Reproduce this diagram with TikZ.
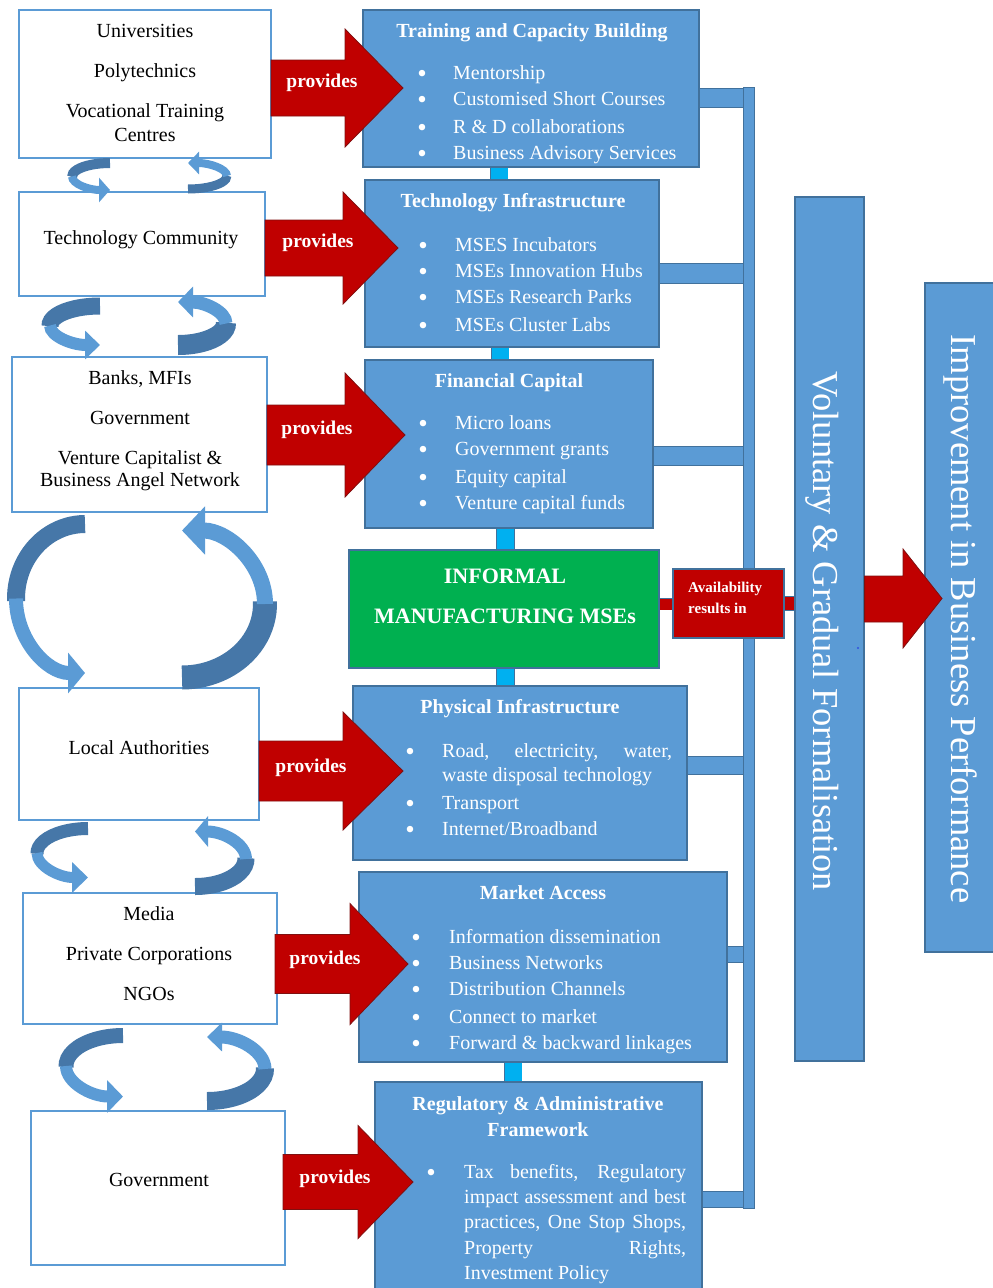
\documentclass[tikz,border=0pt]{standalone}
\usepackage{fontspec}
\setmainfont{Liberation Serif}
\usetikzlibrary{arrows.meta,fit,calc}
\definecolor{bfill}{HTML}{5B9BD5}
\definecolor{bedge}{HTML}{41719C}
\definecolor{rdk}{HTML}{4677A8}
\definecolor{redf}{HTML}{C00000}
\definecolor{rede}{HTML}{7F1010}
\definecolor{grn}{HTML}{00B050}
\definecolor{cyn}{HTML}{00B0F0}
\definecolor{dotc}{HTML}{3050E0}
\tikzset{
 lbox/.style={draw=bfill, line width=1.4pt, fill=white, inner sep=0pt},
 cbox/.style={draw=bedge, line width=1.2pt, fill=bfill, inner sep=0pt},
 gbox/.style={draw=bedge, line width=1.2pt, fill=grn, inner sep=0pt},
 ltxt/.style={font=\fontsize{20}{24}\selectfont, text=black, anchor=mid, inner sep=0pt, yshift=-5pt},
 ttl/.style={font=\fontsize{20}{24}\selectfont\bfseries, text=white, anchor=mid, inner sep=0pt, yshift=-5pt},
 itm/.style={font=\fontsize{20}{24}\selectfont, text=white, anchor=mid west, inner sep=0pt, yshift=-5pt},
 bul/.style={font=\fontsize{27}{30}\selectfont, text=white, anchor=mid, inner sep=0pt, yshift=-8pt},
 gtxt/.style={font=\fontsize{22}{26}\selectfont\bfseries, text=white, anchor=mid, inner sep=0pt, yshift=-5pt},
 avtxt/.style={font=\fontsize{15}{18}\selectfont\bfseries, text=white, anchor=mid west, inner sep=0pt, yshift=-3pt},
 provtxt/.style={font=\fontsize{19.5}{24}\selectfont\bfseries, text=white, anchor=mid, inner sep=0pt, yshift=-5pt},
 rot/.style={font=\fontsize{36.5}{40}\selectfont, text=white, anchor=base, rotate=-90, inner sep=0pt},
 redarrow/.style={fill=redf, draw=rede, line width=0.8pt, line join=miter},
 cconn/.style={draw=bedge, line width=0.8pt, double=cyn, double distance=17pt},
 bconn/.style={draw=bedge, line width=0.8pt, double=bfill, double distance=#1},
 rdark/.style={draw=rdk},
 rlight/.style={draw=bfill},
}
\newcommand\ribL[8]{%
 \draw[rdark, line width=#5pt] (#1,{#2-#4}) arc[start angle=90, end angle=182, x radius=#3pt, y radius=#4pt];
 \draw[rlight, line width=#6pt, -{Triangle[length=#7pt,width=#8pt]}] ({#1-#3},#2) arc[start angle=180, end angle=270, x radius=#3pt, y radius=#4pt];}
\newcommand\ribR[8]{%
 \draw[rdark, line width=#5pt] (#1,{#2+#4}) arc[start angle=-90, end angle=2, x radius=#3pt, y radius=#4pt];
 \draw[rlight, line width=#6pt, -{Triangle[length=#7pt,width=#8pt]}] ({#1+#3},#2) arc[start angle=0, end angle=90, x radius=#3pt, y radius=#4pt];}
\newcommand\provarrow[6]{%
 \draw[redarrow] (#1,{#4-#5}) -- (#2,{#4-#5}) -- (#2,{#4-#6}) -- (#3,#4) -- (#2,{#4+#6}) -- (#2,{#4+#5}) -- (#1,{#4+#5}) -- cycle;}
\newcommand\bitem[5]{%
 \node[bul] (#1b) at (#2,#5) {\textbullet};
 \node[itm] (#1) at (#3,#5) {#4};}
\begin{document}
\begin{tikzpicture}[x=1pt,y=-1pt]
\useasboundingbox (0,0) rectangle (993,1288);
\clip (0,0) rectangle (993,1288);

% left boxes
\node[lbox, fit={(19,10)(271,158)}] (uni) {};
\node[lbox, fit={(19,192)(265,296)}] (tc) {};
\node[lbox, fit={(12,357)(267,512)}] (bank) {};
\node[lbox, fit={(19,688)(259,820)}] (local) {};
\node[lbox, fit={(23,893)(277,1024)}] (media) {};
\node[lbox, fit={(31,1111)(285,1265)}] (gov) {};

% centre boxes
\node[cbox, fit={(363,10)(699,167)}] (train) {};
\node[cbox, fit={(365,180)(659,347)}] (techinf) {};
\node[cbox, fit={(365,360)(653,528)}] (fin) {};
\node[gbox, fit={(349,550)(659,668)}] (green) {};
\node[cbox, fit={(353,686)(687,860)}] (phys) {};
\node[cbox, fit={(359,872)(727,1062)}] (market) {};
\node[cbox, fit={(375,1082)(702,1300)}] (reg) {};

% right boxes
\node[cbox, fit={(795,197)(864,1061)}] (vol) {};
\node[cbox, fit={(925,283)(1000,952)}] (impr) {};

% vertical collecting bar
\node[cbox, line width=0.8pt, fit={(743,87)(754,1208)}] (bar) {};
\coordinate (h1) at (0,98);
\coordinate (h2) at (0,273.5);
\coordinate (h3) at (0,456);
\coordinate (h4) at (0,765.5);
\coordinate (h5) at (0,954.5);
\coordinate (h6) at (0,1199.5);
\draw[bconn=18pt] (train.east |- h1) -- (bar.west |- h1);
\draw[bconn=19pt] (techinf.east |- h2) -- (bar.west |- h2);
\draw[bconn=18pt] (fin.east |- h3) -- (bar.west |- h3);
\draw[bconn=17pt] (phys.east |- h4) -- (bar.west |- h4);
\draw[bconn=15pt] (market.east |- h5) -- (bar.west |- h5);
\draw[bconn=15pt] (reg.east |- h6) -- (bar.west |- h6);

% cyan links between centre boxes
\coordinate (v1) at (499,0);
\coordinate (v2) at (500,0);
\coordinate (v3) at (505.5,0);
\coordinate (v4) at (505.5,0);
\coordinate (v5) at (513,0);
\draw[cconn] (train.south -| v1) -- (techinf.north -| v1);
\draw[cconn] (techinf.south -| v2) -- (fin.north -| v2);
\draw[cconn] (fin.south -| v3) -- (green.north -| v3);
\draw[cconn] (green.south -| v4) -- (phys.north -| v4);
\draw[cconn] (market.south -| v5) -- (reg.north -| v5);

% curved ribbon arrows between left boxes
\ribL{110}{176.5}{38}{13.5}{10}{8}{11}{24}
\ribR{188}{176}{39}{13}{9}{8}{11}{22}
\ribL{100}{325.5}{50}{19.5}{17}{12}{15}{28}
\ribR{178}{323.5}{48}{21.5}{20}{13}{15}{30}
\ribL{85}{598.5}{69}{74.5}{18}{14}{17}{40}
\ribR{182}{604}{83}{73.5}{24}{16}{23}{47}
\ribL{88}{853}{51}{24.5}{13}{11}{16}{30}
\ribR{195}{859}{51}{27.5}{17}{12}{13}{30}
\ribL{123}{1066}{57}{30.5}{15}{12}{16}{32}
\ribR{207}{1069}{58}{32}{18}{13}{15}{28}

% provides arrows
\provarrow{271}{345}{403}{88}{28}{59}
\provarrow{265}{343}{398}{248}{28}{56}
\provarrow{267}{345}{405}{435}{30}{62}
\provarrow{259}{343}{403}{771}{30}{59}
\provarrow{275}{350}{408}{964}{29.5}{60.5}
\provarrow{283}{358}{413}{1182}{27.5}{56.5}
\node[provtxt] (p1) at (322,80) {provides};
\node[provtxt] (p2) at (318,240) {provides};
\node[provtxt] (p3) at (317,427) {provides};
\node[provtxt] (p4) at (311,765) {provides};
\node[provtxt] (p5) at (325,957) {provides};
\node[provtxt] (p6) at (335,1176) {provides};

% availability callout
\coordinate (s1) at (0,604);
\coordinate (s2) at (0,603.5);
\node[fit={(673,569)(784,638)}, fill=redf, draw=bedge, line width=1.2pt, inner sep=0pt] (avail) {};
\draw[draw=bedge, line width=0.8pt, double=redf, double distance=11pt] (green.east |- s1) -- (avail.west |- s1);
\draw[draw=bedge, line width=0.8pt, double=redf, double distance=13pt] (avail.east |- s2) -- (vol.west |- s2);
\node[avtxt] (av1) at (688,587) {Availability};
\node[avtxt] (av2) at (688,608) {results in};

% big red arrow
\draw[redarrow] (vol.east |- 0,576) -- (903,576) -- (903,549) -- (942,598.5) -- (903,648) -- (903,622) -- (vol.east |- 0,622) -- cycle;
\fill[dotc] (858,648) circle (1.2pt);

% rotated texts
\node[rot] (voltxt) at (813,631.5) {Voluntary \& Gradual Formalisation};
\node[rot] (imprtxt) at (951,619) {Improvement in Business Performance};

% left texts
\node[ltxt] (l1a) at (145,30) {Universities};
\node[ltxt] (l1b) at (145,70) {Polytechnics};
\node[ltxt] (l1c) at (145,110) {Vocational Training};
\node[ltxt] (l1d) at (145,134) {Centres};
\node[ltxt] (l2a) at (141,237) {Technology Community};
\node[ltxt] (l3a) at (140,377) {Banks, MFIs};
\node[ltxt] (l3b) at (140,417) {Government};
\node[ltxt] (l3c) at (140,457) {Venture Capitalist \&};
\node[ltxt] (l3d) at (140,479) {Business Angel Network};
\node[ltxt] (l4a) at (139,747) {Local Authorities};
\node[ltxt] (l5a) at (149,913) {Media};
\node[ltxt] (l5b) at (149,953) {Private Corporations};
\node[ltxt] (l5c) at (149,993) {NGOs};
\node[ltxt] (l6a) at (159,1179) {Government};

% centre titles
\node[ttl] (t1) at (532,30) {Training and Capacity Building};
\node[ttl] (t2) at (513,200) {Technology Infrastructure};
\node[ttl] (t3) at (509,380) {Financial Capital};
\node[ttl] (t5) at (520,706) {Physical Infrastructure};
\node[ttl] (t6) at (543,892) {Market Access};
\node[ttl] (t7a) at (538,1103) {Regulatory \& Administrative};
\node[ttl] (t7b) at (538,1129) {Framework};
\node[gtxt] (g1) at (505,576) {INFORMAL};
\node[gtxt] (g2) at (505,616) {MANUFACTURING MSEs};

% items
\bitem{ia}{422}{453}{Mentorship}{72}
\bitem{ib}{422}{453}{Customised Short Courses}{98}
\bitem{ic}{422}{453}{R \& D collaborations}{126}
\bitem{id}{422}{453}{Business Advisory Services}{152}
\bitem{ja}{423}{455}{MSES Incubators}{244}
\bitem{jb}{423}{455}{MSEs Innovation Hubs}{270}
\bitem{jc}{423}{455}{MSEs Research Parks}{296}
\bitem{jd}{423}{455}{MSEs Cluster Labs}{324}
\bitem{ka}{423}{455}{Micro loans}{422}
\bitem{kb}{423}{455}{Government grants}{448}
\bitem{kc}{423}{455}{Equity capital}{476}
\bitem{kd}{423}{455}{Venture capital funds}{502}
\bitem{ma}{410}{442}{\makebox[230pt][s]{Road, electricity, water,}}{750}
\node[itm] (ma2) at (442,774) {waste disposal technology};
\bitem{mb}{410}{442}{Transport}{802}
\bitem{mc}{410}{442}{Internet/Broadband}{828}
\bitem{na}{416}{449}{Information dissemination}{936}
\bitem{nb}{416}{449}{Business Networks}{962}
\bitem{nc}{416}{449}{Distribution Channels}{988}
\bitem{nd}{416}{449}{Connect to market}{1016}
\bitem{ne}{416}{449}{Forward \& backward linkages}{1042}
\bitem{ra}{431}{464}{\makebox[222pt][s]{Tax benefits, Regulatory}}{1171}
\node[itm] (rb) at (464,1196) {\makebox[222pt][s]{impact assessment and best}};
\node[itm] (rc) at (464,1221) {\makebox[222pt][s]{practices, One Stop Shops,}};
\node[itm] (rd) at (464,1247) {\makebox[222pt][s]{Property Rights,}};
\node[itm] (re) at (464,1272) {Investment Policy};
\end{tikzpicture}
\end{document}
